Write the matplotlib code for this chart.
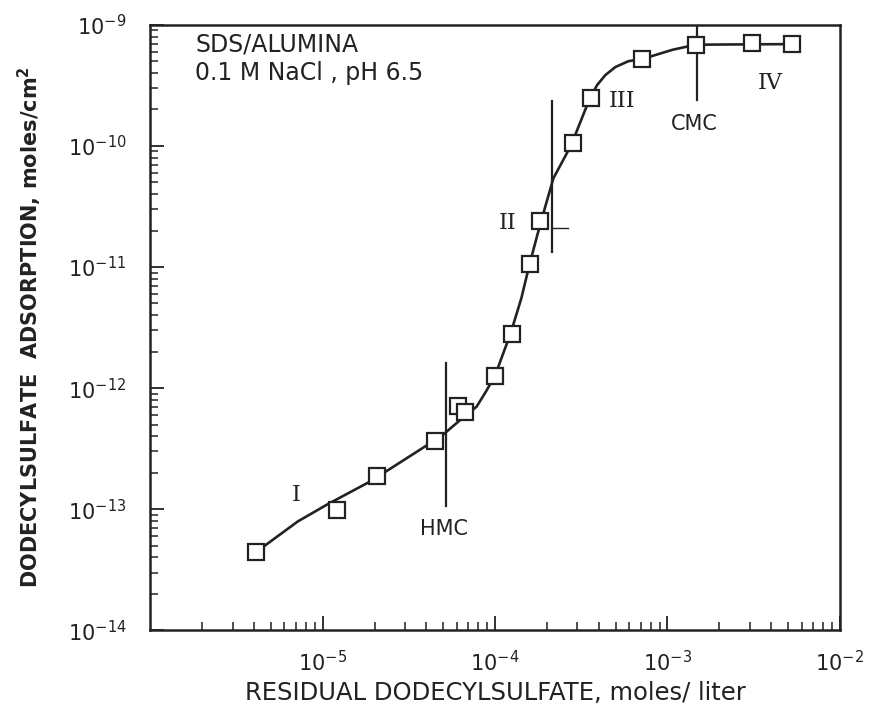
import matplotlib
matplotlib.use("Agg")
import matplotlib.pyplot as plt
from matplotlib.ticker import LogLocator, NullFormatter

# Measured adsorption points (moles/liter, moles/cm^2)
conc = [4.13e-6, 1.21e-5, 2.08e-5, 4.49e-5, 6.07e-5, 6.67e-5, 1.0e-4, 1.25e-4,
        1.60e-4, 1.82e-4, 2.84e-4, 3.60e-4, 7.16e-4, 1.46e-3, 3.08e-3, 5.31e-3]
ads = [4.45e-14, 9.8e-14, 1.87e-13, 3.67e-13, 7.16e-13, 6.38e-13, 1.27e-12, 2.82e-12,
       1.05e-11, 2.38e-11, 1.05e-10, 2.48e-10, 5.22e-10, 6.85e-10, 7.04e-10, 6.93e-10]

# Hand-drawn smooth curve
curve_x = [4.13e-6, 7.18e-6, 1.07e-5, 1.91e-5, 3.97e-5, 5.07e-5, 6.21e-5, 7.82e-5,
           8.85e-5, 1.0e-4, 1.23e-4, 1.42e-4, 1.59e-4, 1.82e-4, 2.18e-4, 2.76e-4,
           3.55e-4, 3.91e-4, 4.36e-4, 4.99e-4, 5.94e-4, 7.16e-4, 1.07e-3, 1.46e-3,
           3.07e-3, 5.31e-3]
curve_y = [4.45e-14, 7.93e-14, 1.10e-13, 1.71e-13, 3.33e-13, 4.20e-13, 5.38e-13, 7.03e-13,
           9.35e-13, 1.27e-12, 2.82e-12, 5.50e-12, 1.07e-11, 2.20e-11, 5.40e-11, 1.01e-10,
           2.48e-10, 3.18e-10, 3.84e-10, 4.48e-10, 5.01e-10, 5.22e-10, 6.22e-10, 6.85e-10,
           6.90e-10, 6.93e-10]

# Region boundary markers
hmc_x = 5.2e-5
hmc_y = [1.07e-13, 1.62e-12]
b23_x = 2.15e-4
b23_y = [1.32e-11, 2.33e-10]
b23_tick_x = [2.15e-4, 2.64e-4]
b23_tick_y = 2.08e-11
cmc_x = 1.48e-3
cmc_y = [2.41e-10, 1e-9]

region_labels = ["I", "II", "III", "IV"]
region_x = [7.0e-6, 1.19e-4, 5.45e-4, 3.97e-3]
region_y = [1.30e-13, 2.33e-11, 2.34e-10, 3.30e-10]

x_ticks = [1e-5, 1e-4, 1e-3, 1e-2]
y_ticks = [1e-14, 1e-13, 1e-12, 1e-11, 1e-10, 1e-9]

fig = plt.figure(figsize=(8.84, 7.09), dpi=100)
ax = fig.add_axes([0.170, 0.111, 0.780, 0.854])
ax.set_xscale("log")
ax.set_yscale("log")
ax.set_xlim(1e-6, 1e-2)
ax.set_ylim(1e-14, 1e-9)

lc = "#222222"
ax.plot(curve_x, curve_y, color=lc, lw=1.9, zorder=2, solid_joinstyle="round")
ax.plot(conc, ads, linestyle="none", marker="s", markersize=11.5, markerfacecolor="white",
        markeredgecolor=lc, markeredgewidth=1.6, zorder=3)

ax.plot([hmc_x, hmc_x], hmc_y, color=lc, lw=1.6, zorder=1)
ax.plot([b23_x, b23_x], b23_y, color=lc, lw=1.6, zorder=1)
ax.plot(b23_tick_x, [b23_tick_y, b23_tick_y], color=lc, lw=1.0, zorder=1)
ax.plot([cmc_x, cmc_x], cmc_y, color=lc, lw=1.6, zorder=1)

for lab, xx, yy in zip(region_labels, region_x, region_y):
    ax.text(xx, yy, lab, fontsize=16, family="DejaVu Serif", ha="center", va="center",
            color=lc)
ax.text(5.08e-5, 6.9e-14, "HMC", fontsize=15, ha="center", va="center", color=lc)
ax.text(1.44e-3, 1.53e-10, "CMC", fontsize=15, ha="center", va="center", color=lc)

ax.text(0.065, 0.967, "SDS/ALUMINA", transform=ax.transAxes, fontsize=17,
        ha="left", va="center", color=lc)
ax.text(0.065, 0.921, "0.1 M NaCl , pH 6.5", transform=ax.transAxes, fontsize=17,
        ha="left", va="center", color=lc)

for s in ["left", "bottom", "right", "top"]:
    ax.spines[s].set_linewidth(1.8)
    ax.spines[s].set_color(lc)

ax.set_xticks(x_ticks)
ax.set_yticks(y_ticks)
ax.xaxis.set_minor_locator(LogLocator(base=10, subs=range(2, 10), numticks=20))
ax.yaxis.set_minor_locator(LogLocator(base=10, subs=range(2, 10), numticks=20))
ax.xaxis.set_minor_formatter(NullFormatter())
ax.yaxis.set_minor_formatter(NullFormatter())
ax.tick_params(which="both", direction="in", top=False, right=False, color=lc,
               labelcolor=lc, labelsize=15)
ax.tick_params(axis="x", which="major", length=10, width=1.3, pad=14)
ax.tick_params(axis="x", which="minor", length=6, width=1.1)
ax.tick_params(axis="y", which="major", length=10, width=1.3, pad=17)
ax.tick_params(axis="y", which="minor", length=6, width=1.1)

ax.set_xlabel("RESIDUAL DODECYLSULFATE, moles/ liter", fontsize=17.5, color=lc,
              labelpad=4)
ax.set_ylabel(r"DODECYLSULFATE  ADSORPTION, moles/cm$^\mathbf{2}$", fontsize=15,
              fontweight="bold", color=lc, labelpad=17)

fig.savefig("out.png", dpi=100, facecolor="white")
